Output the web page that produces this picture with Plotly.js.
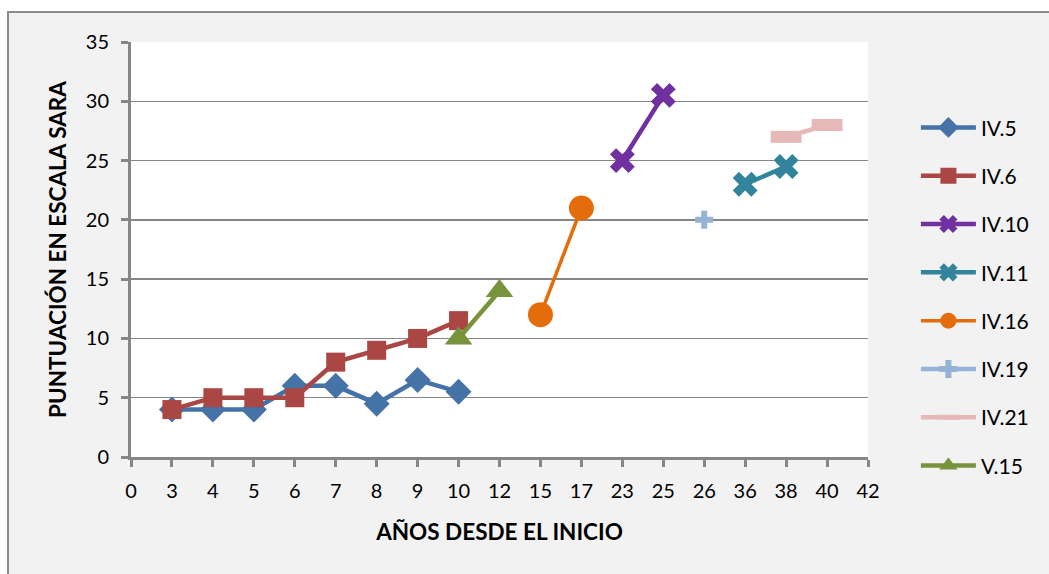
<!DOCTYPE html>
<html>
<head>
<meta charset="utf-8">
<script src="https://cdn.plot.ly/plotly-3.0.1.min.js"></script>
<style>
  html, body { margin: 0; padding: 0; background: #ffffff; }
  #chart { width: 1049px; height: 574px; }
</style>
</head>
<body>
<div id="chart"></div>
<script>
// Category labels along the horizontal axis (years since onset)
const years = ['0', '3', '4', '5', '6', '7', '8', '9', '10', '12', '15', '17', '23', '25', '26', '36', '38', '40', '42'];

// Each series: the years it was measured at and its SARA score
const iv5Years  = ['3', '4', '5', '6', '7', '8', '9', '10'];
const iv5Score  = [4, 4, 4, 6, 6, 4.5, 6.5, 5.5];

const iv6Years  = ['3', '4', '5', '6', '7', '8', '9', '10'];
const iv6Score  = [4, 5, 5, 5, 8, 9, 10, 11.5];

const iv10Years = ['23', '25'];
const iv10Score = [25, 30.5];

const iv11Years = ['36', '38'];
const iv11Score = [23, 24.5];

const iv16Years = ['15', '17'];
const iv16Score = [12, 21];

const iv19Years = ['26'];
const iv19Score = [20];

const iv21Years = ['38', '40'];
const iv21Score = [27, 28];

const v15Years  = ['10', '12'];
const v15Score  = [10, 14];

const yTicks = [0, 5, 10, 15, 20, 25, 30, 35];

// Map a year label to its slot on the category axis
const pos = lbl => years.indexOf(lbl);

const FONT = 'Lato, "Open Sans", sans-serif';

function series(name, xs, ys, color, symbol, size, extra) {
  const t = {
    type: 'scatter',
    mode: 'lines+markers',
    name: name,
    legendgroup: name,
    x: xs.map(pos),
    y: ys,
    line: { color: color, width: 4.5 },
    marker: { color: color, symbol: symbol, size: size, line: { width: 0, color: color } },
    cliponaxis: false
  };
  return Object.assign(t, extra || {});
}

const traces = [
  series('IV.5',  iv5Years,  iv5Score,  '#4572A7', 'diamond', 20),
  series('IV.6',  iv6Years,  iv6Score,  '#AA4643', 'square', 19),
  series('IV.10', iv10Years, iv10Score, '#7030A0', 'x', 22),
  series('IV.11', iv11Years, iv11Score, '#31849B', 'x', 22),
  series('IV.16', iv16Years, iv16Score, '#E46C0A', 'circle', 25, { line: { color: '#E46C0A', width: 3.5 } }),
  series('IV.19', iv19Years, iv19Score, '#95B3D7', 'cross', 15),
  series('IV.21', iv21Years, iv21Score, '#E6B9B8', 'line-ew', 22,
         { marker: { color: '#E6B9B8', symbol: 'line-ew', size: 22, line: { width: 12, color: '#E6B9B8' } } }),
  series('V.15',  v15Years,  v15Score,  '#77933C', 'triangle-up', 24)
];

const layout = {
  width: 1049,
  height: 574,
  margin: { l: 131, r: 181, t: 42, b: 117, pad: 0 },
  paper_bgcolor: '#ffffff',
  plot_bgcolor: '#ffffff',
  font: { family: FONT, size: 20, color: '#000000' },
  showlegend: true,
  legend: {
    x: 1.065, xanchor: 'left',
    y: 0.386, yanchor: 'middle',
    bgcolor: 'rgba(0,0,0,0)',
    font: { family: FONT, size: 21, color: '#000000' },
    tracegroupgap: 18,
    traceorder: 'grouped',
    itemwidth: 55
  },
  xaxis: {
    type: 'linear',
    range: [0, years.length - 1],
    tickvals: years.map((_, i) => i),
    ticktext: years,
    showgrid: false,
    zeroline: false,
    showline: true,
    linecolor: '#868686',
    linewidth: 3,
    ticks: 'outside',
    ticklen: 7,
    tickwidth: 3,
    tickcolor: '#868686',
    tickfont: { family: FONT, size: 20 },
    ticklabelstandoff: 7,
    fixedrange: true,
    title: { text: '<b>AÑOS DESDE EL INICIO</b>', font: { family: FONT, size: 22.5 }, standoff: 24 }
  },
  yaxis: {
    range: [0, 35],
    tickvals: yTicks,
    showgrid: true,
    gridcolor: '#868686',
    gridwidth: 1.5,
    zeroline: false,
    showline: true,
    linecolor: '#868686',
    linewidth: 3,
    ticks: 'outside',
    ticklen: 7,
    tickwidth: 3,
    tickcolor: '#868686',
    tickfont: { family: FONT, size: 20 },
    ticklabelstandoff: 8,
    fixedrange: true,
    title: { text: '<b>PUNTUACIÓN EN ESCALA SARA</b>', font: { family: FONT, size: 22.5 }, standoff: 13 }
  },
  shapes: [
    // grey chart frame behind everything
    {
      type: 'rect', xref: 'paper', yref: 'paper', layer: 'below',
      x0: -123 / 737, x1: 1.35, y0: -0.5, y1: 1 + 30 / 415,
      fillcolor: '#F2F2F2',
      line: { color: '#8C8C8C', width: 2 }
    },
    // white plotting area
    {
      type: 'rect', xref: 'paper', yref: 'paper', layer: 'below',
      x0: 0, x1: 1, y0: 0, y1: 1,
      fillcolor: '#ffffff',
      line: { width: 0 }
    }
  ]
};

Plotly.newPlot('chart', traces, layout, { displayModeBar: false, staticPlot: true });
</script>
</body>
</html>
